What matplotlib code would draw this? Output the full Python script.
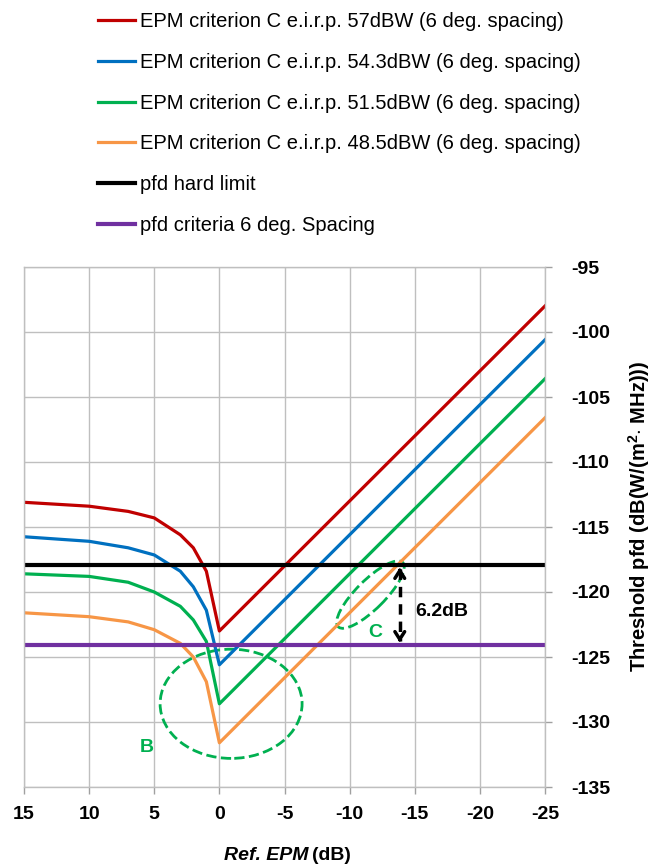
import numpy as np
import matplotlib.pyplot as plt
from matplotlib.patches import Ellipse

plt.rcParams['font.family'] = ['Liberation Sans', 'DejaVu Sans']
plt.rcParams['mathtext.fontset'] = 'custom'
plt.rcParams['mathtext.rm'] = 'Liberation Sans'
plt.rcParams['mathtext.bf'] = 'Liberation Sans:bold'
plt.rcParams['axes.unicode_minus'] = False

# Ref. EPM (dB) sample points
x_epm = [15, 10, 7, 5, 3, 2, 1, 0, -25]

pfd_57 = [-113.1, -113.4, -113.8, -114.3, -115.6, -116.6, -118.4, -123.0, -98.0]
pfd_543 = [-115.75, -116.1, -116.6, -117.15, -118.4, -119.6, -121.4, -125.6, -100.6]
pfd_515 = [-118.6, -118.8, -119.25, -120.0, -121.1, -122.15, -123.8, -128.6, -103.6]
pfd_485 = [-121.6, -121.9, -122.3, -122.9, -123.95, -125.0, -126.9, -131.6, -106.6]

hard_limit = -117.9
criteria_6deg = -124.1

labels = ['EPM criterion C e.i.r.p. 57dBW (6 deg. spacing)',
          'EPM criterion C e.i.r.p. 54.3dBW (6 deg. spacing)',
          'EPM criterion C e.i.r.p. 51.5dBW (6 deg. spacing)',
          'EPM criterion C e.i.r.p. 48.5dBW (6 deg. spacing)',
          'pfd hard limit',
          'pfd criteria 6 deg. Spacing']
colors = ['#C00000', '#0070C0', '#00B050', '#F79646', 'black', '#7030A0']

fig = plt.figure(figsize=(6.52, 8.66), dpi=100)
ax = fig.add_axes([24/652, 79/866, 521/652, 520/866])

for ys, c, lab in zip([pfd_57, pfd_543, pfd_515, pfd_485], colors[:4], labels[:4]):
    ax.plot(x_epm, ys, color=c, lw=2.3, label=lab)
ax.plot([15, -25], [hard_limit, hard_limit], color='black', lw=3, label=labels[4])
ax.plot([15, -25], [criteria_6deg, criteria_6deg], color='#7030A0', lw=3, label=labels[5])

ax.set_xlim(15, -25)
ax.set_ylim(-135, -95)
ax.set_xticks(np.arange(15, -26, -5))
ax.set_yticks(np.arange(-135, -94, 5))
ax.grid(True, color='#bfbfbf', lw=1)
ax.set_axisbelow(True)
for s in ax.spines.values():
    s.set_color('#bfbfbf')
    s.set_linewidth(1)
ax.yaxis.tick_right()
ax.tick_params(axis='both', colors='#a0a0a0', labelcolor='black', length=5, width=1,
               labelsize=14)
ax.tick_params(axis='y', pad=14)
ax.tick_params(axis='x', pad=9)
for t in ax.get_xticklabels() + ax.get_yticklabels():
    t.set_fontweight('bold')

# axis titles
fig.text(639/652, 1 - 516/866, 'Threshold pfd (dB(W/(m$^{\\mathbf{2}}$$\\cdot$ MHz)))',
         rotation=90, ha='center', va='center', fontsize=14.5, fontweight='bold')
fig.text(308/652, 1 - 855/866, 'Ref. EPM', ha='right', va='center', fontsize=14,
         fontweight='bold', fontstyle='italic')
fig.text(312/652, 1 - 855/866, '(dB)', ha='left', va='center', fontsize=14,
         fontweight='bold')

# 6.2dB double arrow
x_arr = -13.85
ax.plot([x_arr, x_arr], [hard_limit - 0.3, criteria_6deg + 0.3], color='black', lw=2.5,
        dashes=(3, 2))
ax.annotate('', xy=(x_arr, hard_limit), xytext=(x_arr, hard_limit - 0.8),
            arrowprops=dict(arrowstyle='->,head_length=0.55,head_width=0.35', lw=2.5, color='black'))
ax.annotate('', xy=(x_arr, criteria_6deg), xytext=(x_arr, criteria_6deg + 0.8),
            arrowprops=dict(arrowstyle='->,head_length=0.55,head_width=0.35', lw=2.5, color='black'))
ax.text(-15.0, -121.5, '6.2dB', fontsize=14, fontweight='bold', va='center', ha='left')

ax.add_patch(Ellipse((-0.9, -128.6), 10.9, 8.4, fill=False, ec='#00B050', lw=2, ls='--'))
ax.text(5.6, -132.0, 'B', color='#00B050', fontsize=14, fontweight='bold', ha='center', va='center')
ax.add_patch(Ellipse((-11.6, -120.2), 7.0, 2.2, angle=-45, fill=False, ec='#00B050', lw=2, ls='--'))
ax.text(-12.0, -123.1, 'C', color='#00B050', fontsize=14, fontweight='bold', ha='center', va='center')

handles, labs = ax.get_legend_handles_labels()
fig.legend(handles, labs, loc='upper left', bbox_to_anchor=(90/652, 1 - 4/866),
           frameon=False, fontsize=14.5, handlelength=1.85, handletextpad=0.25,
           labelspacing=1.08, borderaxespad=0)

fig.savefig('out.png', dpi=100)
